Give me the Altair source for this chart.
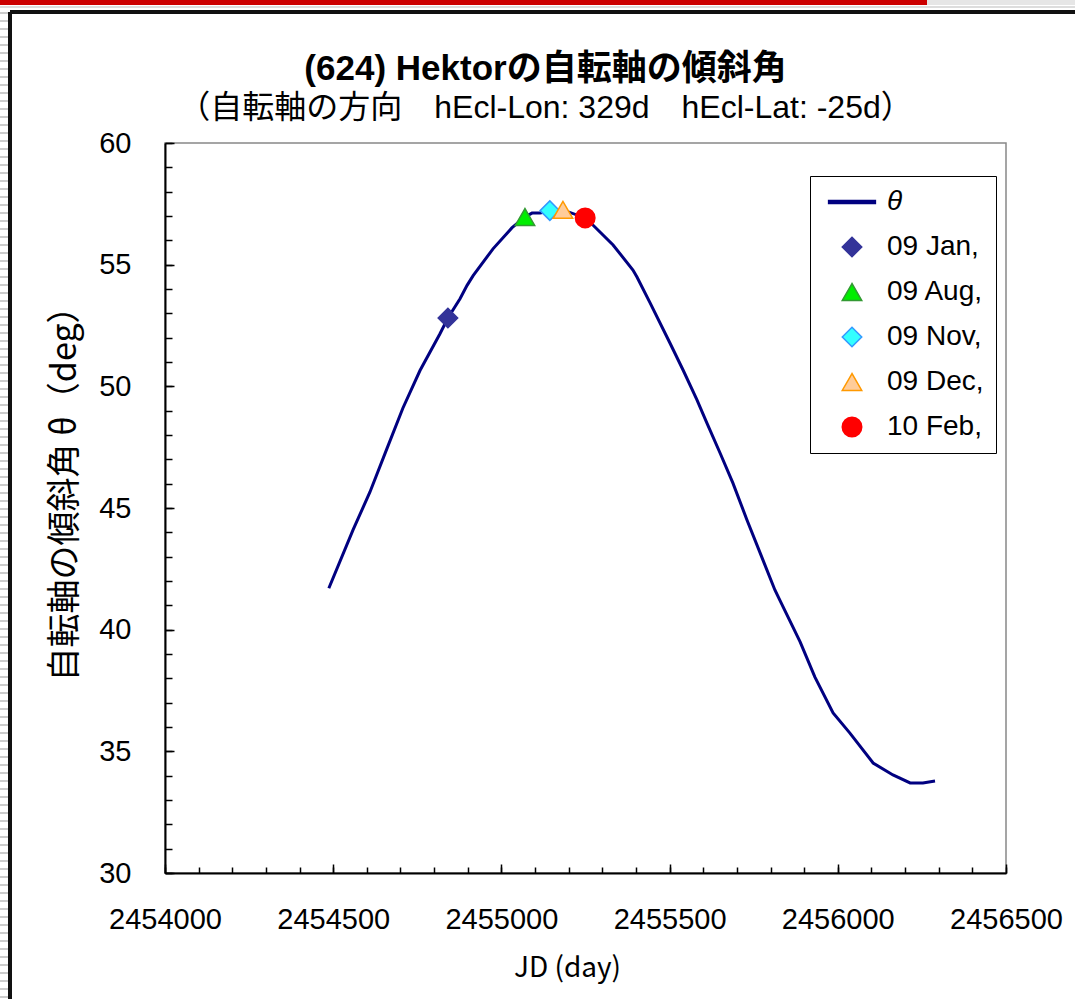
import altair as alt
import pandas as pd

# --- data ---
jd = [2454487, 2454559, 2454609, 2454660, 2454707, 2454758, 2454817, 2454841,
      2454877, 2454898, 2454916, 2454975, 2455031, 2455070, 2455091, 2455115,
      2455144, 2455183, 2455249, 2455272, 2455332, 2455391, 2455403, 2455442,
      2455501, 2455540, 2455581, 2455611, 2455650, 2455688, 2455730, 2455813,
      2455828, 2455888, 2455932, 2455986, 2456036, 2456105, 2456164, 2456215,
      2456253, 2456289]
theta = [41.70, 44.10, 45.65, 47.45, 49.10, 50.65, 52.15, 52.81,
         53.60, 54.15, 54.55, 55.65, 56.51, 56.96, 57.12, 57.12,
         57.20, 57.25, 56.92, 56.63, 55.81, 54.78, 54.49, 53.43,
         51.78, 50.67, 49.45, 48.49, 47.26, 46.03, 44.51, 41.63,
         41.20, 39.50, 38.05, 36.58, 35.75, 34.52, 34.03, 33.70,
         33.70, 33.78]

marker_labels = ["09 Jan,", "09 Aug,", "09 Nov,", "09 Dec,", "10 Feb,"]
marker_jd = [2454841, 2455070, 2455144, 2455183, 2455249]
marker_theta = [52.81, 56.96, 57.22, 57.25, 56.92]

series_domain = ["θ"] + marker_labels
fill_range = ["#000080", "#333399", "#00ee00", "#33ffff", "#ffcc99", "#ff0000"]
stroke_range = ["#000080", "#333399", "#339933", "#3399ff", "#ff9900", "#ff0000"]
shape_range = ["M-2.4,-0.16H2.4V0.16H-2.4Z", "diamond", "triangle-up",
               "diamond", "triangle-up", "circle"]

x_major = [2454000, 2454500, 2455000, 2455500, 2456000, 2456500]
x_minor = list(range(2454000, 2456501, 100))
y_major = [30, 35, 40, 45, 50, 55, 60]
y_minor = list(range(30, 61, 1))

line_df = pd.DataFrame({"jd": jd, "theta": theta})
mark_df = pd.DataFrame({"jd": marker_jd, "theta": marker_theta, "series": marker_labels})

LAT = "Liberation Sans, Arial, sans-serif"
CJK = "Noto Sans CJK JP"
MIX = "Liberation Sans, Noto Sans CJK JP, sans-serif"
W, H = 841, 730

xscale = alt.Scale(domain=[2454000, 2456500], nice=False, zero=False)
yscale = alt.Scale(domain=[30, 60], nice=False, zero=False)

# Main line with label axes
line = alt.Chart(line_df).mark_line(color="#000080", strokeWidth=3).encode(
    x=alt.X("jd:Q", scale=xscale,
            axis=alt.Axis(orient="bottom", values=x_major, format="d", ticks=False,
                          grid=False, domainColor="black", domainWidth=2,
                          labelFont=LAT, labelFontSize=29, labelColor="black",
                          labelPadding=32, labelFlush=False, labelOverlap=False,
                          title="JD (day)", titleFont=CJK, titleFontSize=28,
                          titleFontWeight="normal", titleColor="black", titlePadding=20,
                          titleX=402)),
    y=alt.Y("theta:Q", scale=yscale,
            axis=alt.Axis(orient="left", values=y_major, ticks=False, grid=False,
                          domainColor="black", domainWidth=2,
                          labelFont=LAT, labelFontSize=29, labelColor="black",
                          labelPadding=34, labelFlush=False, labelOverlap=False,
                          title="自転軸の傾斜角 θ（deg）", titleFont=CJK, titleFontSize=34,
                          titleFontWeight="normal", titleColor="black", titlePadding=16,
                          titleY=342)),
)

legend = alt.Legend(title=None, orient="none", legendX=645, legendY=33,
                    fillColor="white", strokeColor="black", padding=12,
                    labelFont=LAT, labelFontSize=28, labelColor="black",
                    symbolSize=380, symbolStrokeWidth=1.5, symbolOffset=16,
                    labelOffset=21, rowPadding=17,
                    labelFontStyle=alt.ExprRef("datum.label === 'θ' ? 'italic' : 'normal'"))

# Markers with minor inside ticks
points = alt.Chart(mark_df).mark_point(filled=True, size=380, strokeWidth=1.5, opacity=1).encode(
    x=alt.X("jd:Q", scale=xscale,
            axis=alt.Axis(orient="top", offset=-H, values=x_minor, labels=False, domain=False,
                          grid=False, tickSize=6, tickColor="black", tickWidth=1.5, title=None)),
    y=alt.Y("theta:Q", scale=yscale,
            axis=alt.Axis(orient="right", offset=-W, values=y_minor, labels=False, domain=False,
                          grid=False, tickSize=7, tickColor="black", tickWidth=1.5, title=None)),
    fill=alt.Fill("series:N", scale=alt.Scale(domain=series_domain, range=fill_range), legend=legend),
    stroke=alt.Stroke("series:N", scale=alt.Scale(domain=series_domain, range=stroke_range), legend=legend),
    shape=alt.Shape("series:N", scale=alt.Scale(domain=series_domain, range=shape_range), legend=legend),
)

# invisible layer carrying the major inside ticks
major = alt.Chart(line_df).mark_line(opacity=0).encode(
    x=alt.X("jd:Q", scale=xscale,
            axis=alt.Axis(orient="top", offset=-H, values=x_major, labels=False, domain=False,
                          grid=False, tickSize=9, tickColor="black", tickWidth=1.5, title=None)),
    y=alt.Y("theta:Q", scale=yscale,
            axis=alt.Axis(orient="right", offset=-W, values=y_major, labels=False, domain=False,
                          grid=False, tickSize=9, tickColor="black", tickWidth=1.5, title=None)),
)

# page decorations (slide frame)
def rule(x, x2, y, y2, color, width, dash=None):
    kw = dict(color=color, strokeWidth=width)
    if dash:
        kw["strokeDash"] = dash
    return alt.Chart(line_df).mark_rule(**kw).encode(
        x=alt.value(x), x2=alt.value(x2), y=alt.value(y), y2=alt.value(y2))

deco = [
    rule(-165, 762, -141, -141, "#cc0000", 5),
    rule(762, 910, -141, -141, "#e6e6e6", 5),
    rule(-165, 910, -136, -136, "#dddddd", 2),
    rule(-155, 910, -131, -131, "#111111", 2.5),
    rule(-155, -155, -131, 856, "#111111", 2.5),
    rule(-161, -161, -131, 856, "#cccccc", 8, [2, 6]),
]

chart = alt.layer(*deco, line, major, points).resolve_axis(
    x="independent", y="independent"
).properties(
    width=W, height=H,
    autosize=alt.AutoSizeParams(type="none"),
    padding={"left": 165, "top": 143, "right": 69, "bottom": 126},
    background="white",
    title=alt.TitleParams(
        text="(624) Hektorの自転軸の傾斜角",
        subtitle="（自転軸の方向　hEcl-Lon: 329d　hEcl-Lat: -25d）",
        font=MIX, fontSize=35, fontWeight="bold", color="black",
        subtitleFont=MIX, subtitleFontSize=32, subtitleColor="black",
        subtitlePadding=6, anchor="middle", frame="group", dx=-40, offset=-124,
    ),
).configure_view(stroke="#888888", strokeWidth=1.5)

chart.save("out.html", embed_options={"renderer": "svg", "actions": False})
